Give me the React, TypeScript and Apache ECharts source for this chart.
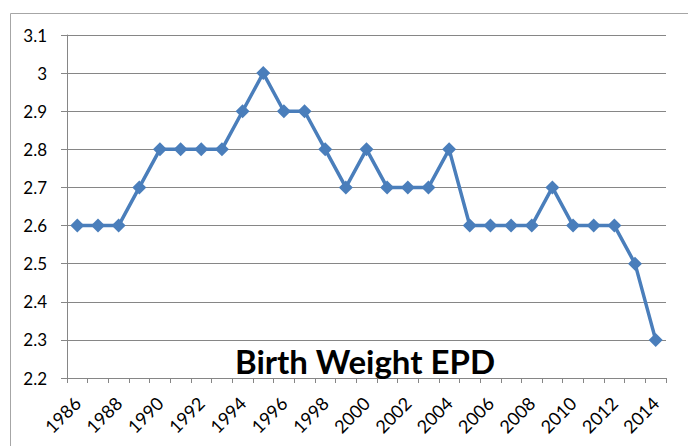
import React, { useEffect, useRef } from "react";
import * as echarts from "echarts";

const years = [
  "1986","1987","1988","1989","1990","1991","1992","1993","1994","1995",
  "1996","1997","1998","1999","2000","2001","2002","2003","2004","2005",
  "2006","2007","2008","2009","2010","2011","2012","2013","2014",
];
const birthWeightEPD = [
  2.6, 2.6, 2.6, 2.7, 2.8, 2.8, 2.8, 2.8, 2.9, 3.0,
  2.9, 2.9, 2.8, 2.7, 2.8, 2.7, 2.7, 2.7, 2.8, 2.6,
  2.6, 2.6, 2.6, 2.7, 2.6, 2.6, 2.6, 2.5, 2.3,
];
const chartTitle = "Birth Weight EPD";

export default function App() {
  const ref = useRef<HTMLDivElement>(null);
  useEffect(() => {
    document.body.style.margin = "0";
    if (!ref.current) return;
    const chart = echarts.init(ref.current, undefined, { renderer: "svg" });
    const font = "Lato, 'Open Sans', sans-serif";
    chart.setOption({
      animation: false,
      backgroundColor: "#ffffff",
      graphic: [
        {
          type: "rect",
          shape: { x: 10.5, y: 13.5, width: 700, height: 450 },
          style: { fill: "none", stroke: "#a6a6a6", lineWidth: 1 },
          silent: true,
        },
      ],
      title: {
        text: chartTitle,
        left: 360,
        textAlign: "center",
        top: 339,
        textStyle: { fontFamily: font, fontSize: 33, fontWeight: "bold", color: "#000" },
      },
      grid: { left: 67, right: 22, top: 35, bottom: 68 },
      xAxis: {
        type: "category",
        data: years,
        boundaryGap: true,
        axisLine: { lineStyle: { color: "#868686", width: 1 } },
        axisTick: { show: true, interval: 0, length: 5, lineStyle: { color: "#868686" } },
        axisLabel: {
          interval: 1,
          rotate: 45,
          fontFamily: font,
          fontSize: 18,
          color: "#000",
          margin: 22,
        },
      },
      yAxis: {
        type: "value",
        min: 2.2,
        max: 3.1,
        interval: 0.1,
        axisLine: { show: true, lineStyle: { color: "#868686", width: 1 } },
        axisTick: { show: true, length: 6, lineStyle: { color: "#868686" } },
        axisLabel: {
          fontFamily: font,
          fontSize: 17,
          color: "#000",
          margin: 20,
          formatter: (v: number) => String(Math.round(v * 10) / 10),
        },
        splitLine: { show: true, lineStyle: { color: "#868686", width: 1 } },
      },
      series: [
        {
          type: "line",
          data: birthWeightEPD,
          symbol: "diamond",
          symbolSize: 14,
          showAllSymbol: true,
          lineStyle: { color: "#4a7ebb", width: 3.5 },
          itemStyle: { color: "#4a7ebb" },
        },
      ],
    });
    return () => chart.dispose();
  }, []);
  return <div ref={ref} style={{ width: 688, height: 446 }} />;
}
